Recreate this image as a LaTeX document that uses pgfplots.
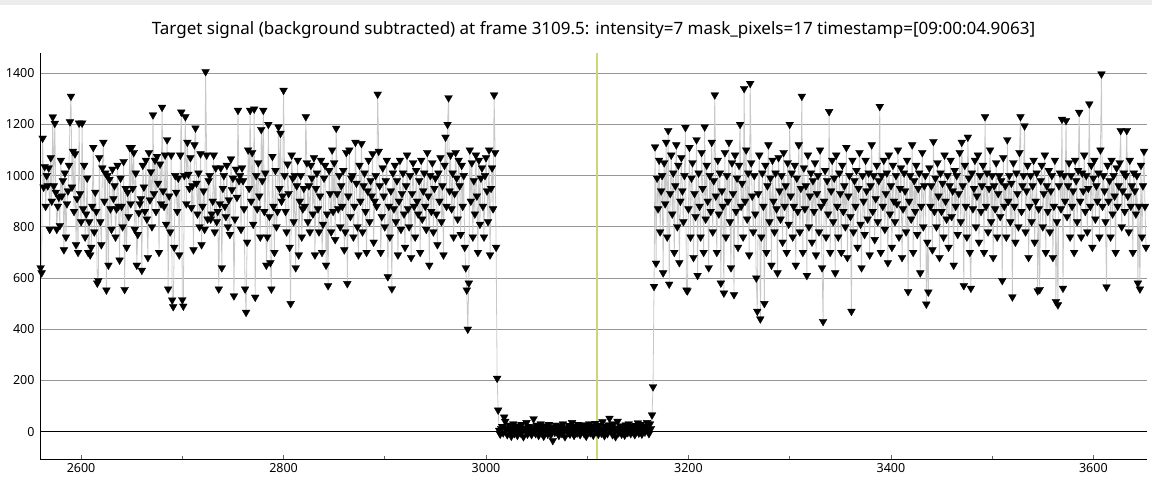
\documentclass[border=0pt]{standalone}
\usepackage{fontspec}
\setmainfont{Noto Sans}
\usepackage{pgfplots}
\pgfplotsset{compat=1.18}
\definecolor{markerline}{RGB}{200,200,200}
\definecolor{cursorline}{RGB}{205,215,120}
\definecolor{gridgray}{RGB}{150,150,150}

\begin{document}
\begin{tikzpicture}
\useasboundingbox (-40pt,-34pt) rectangle (1112pt,459pt);
\fill[black!7] (-40pt,454pt) rectangle (1112pt,459pt);
\begin{axis}[
    at={(0pt,0pt)}, anchor=south west,
    scale only axis,
    width=1107pt, height=406pt,
    xmin=2559.4, xmax=3653,
    ymin=-107, ymax=1479,
    axis lines=left,
    axis line style={-, black, line width=0.9pt},
    xtick={2600,2800,...,3600},
    minor xtick={2700,2900,...,3500},
    ytick={0,200,...,1400},
    tick align=inside,
    major tick length=4pt, minor tick length=3pt,
    x tick style={black!60, line width=0.6pt},
    y tick style={draw=none},
    ymajorgrids=true,
    major grid style={gridgray, line width=0.8pt},
    tick label style={font=\fontsize{12.5}{14}\selectfont},
    /pgf/number format/assume math mode=true,
    /pgf/number format/1000 sep={},
    yticklabel style={xshift=-2pt},
    xticklabel style={yshift=-1pt},
    title={Target signal (background subtracted) at frame 3109.5: intensity=7 mask\_pixels=17 timestamp=[09:00:04.9063]},
    title style={font=\fontsize{17}{19}\selectfont, at={(0.5,1)}, anchor=center, yshift=17pt},
    clip=true,
]
% zero line
\addplot[black, line width=1.2pt, forget plot] coordinates {(2559.4,0) (3653,0)};
% signal
\addplot[
    color=markerline, line width=0.8pt,
    mark=triangle*, mark size=4.5pt,
    mark options={rotate=180, fill=black, draw=black, line width=0.3pt},
    ]
    coordinates {
(2560,640)(2561,620)(2562,1146)(2563,955)(2564,1035)(2565,880)(2566,1000)(2567,960)(2568,1030)(2569,790)
(2570,1070)(2571,900)(2572,1229)(2573,960)(2574,1204)(2575,935)(2576,790)(2577,880)(2578,915)(2579,805)
(2580,1060)(2581,920)(2582,980)(2583,710)(2584,1010)(2585,760)(2586,890)(2587,940)(2588,1040)(2589,1210)
(2590,1310)(2591,955)(2592,1095)(2593,860)(2594,1085)(2595,730)(2596,910)(2597,700)(2598,1205)(2599,930)
(2600,820)(2601,1205)(2602,870)(2603,1040)(2604,760)(2605,850)(2606,990)(2607,700)(2608,820)(2609,690)
(2610,720)(2611,880)(2612,1110)(2613,780)(2614,935)(2615,860)(2616,580)(2617,590)(2618,1070)(2619,820)
(2620,730)(2621,1030)(2622,1130)(2623,900)(2624,1010)(2625,553)(2626,1000)(2627,650)(2628,985)(2629,870)
(2630,790)(2631,1025)(2632,910)(2633,960)(2634,760)(2635,870)(2636,1040)(2637,880)(2638,670)(2639,990)
(2640,880)(2641,800)(2642,1055)(2643,555)(2644,950)(2645,720)(2646,935)(2647,840)(2648,1110)(2649,890)
(2650,1110)(2651,950)(2652,1090)(2653,790)(2654,1010)(2655,650)(2656,770)(2657,855)(2658,890)(2659,910)
(2660,630)(2661,1040)(2662,955)(2663,860)(2664,1060)(2665,830)(2666,680)(2667,1090)(2668,905)(2669,1015)
(2670,800)(2671,1237)(2672,930)(2673,1060)(2674,860)(2675,1075)(2676,970)(2677,700)(2678,1045)(2679,890)
(2680,1267)(2681,940)(2682,880)(2683,1080)(2684,810)(2685,1140)(2686,557)(2687,920)(2688,780)(2689,1080)
(2690,514)(2691,488)(2692,720)(2693,1000)(2694,935)(2695,860)(2696,990)(2697,690)(2698,1080)(2699,1248)
(2700,515)(2701,490)(2702,1000)(2703,1230)(2704,890)(2705,1130)(2706,1005)(2707,950)(2708,1070)(2709,875)
(2710,960)(2711,710)(2712,1120)(2713,1186)(2714,970)(2715,850)(2716,1010)(2717,800)(2718,1085)(2719,730)
(2720,880)(2721,940)(2722,790)(2723,1406)(2724,1080)(2725,830)(2726,980)(2727,1000)(2728,830)(2729,850)
(2730,900)(2731,1080)(2732,780)(2733,1030)(2734,820)(2735,860)(2736,557)(2737,890)(2738,1030)(2739,640)
(2740,950)(2741,1000)(2742,880)(2743,840)(2744,1040)(2745,800)(2746,905)(2747,770)(2748,1065)(2749,945)
(2750,990)(2751,530)(2752,830)(2753,1025)(2754,915)(2755,1255)(2756,980)(2757,1000)(2758,790)(2759,1030)
(2760,980)(2761,870)(2762,557)(2763,466)(2764,740)(2765,1100)(2766,950)(2767,1255)(2768,900)(2769,1090)
(2770,810)(2771,1260)(2772,525)(2773,1000)(2774,870)(2775,1050)(2776,920)(2777,760)(2778,1180)(2779,980)
(2780,1255)(2781,860)(2782,1010)(2783,650)(2784,760)(2785,1200)(2786,840)(2787,660)(2788,557)(2789,1075)
(2790,880)(2791,700)(2792,1020)(2793,800)(2794,860)(2795,1190)(2796,950)(2797,1165)(2798,900)(2799,920)
(2800,1333)(2801,1000)(2802,860)(2803,780)(2804,1045)(2805,930)(2806,720)(2807,500)(2808,1080)(2809,990)
(2810,820)(2811,1000)(2812,640)(2813,960)(2814,1060)(2815,690)(2816,900)(2817,1000)(2818,760)(2819,870)
(2820,950)(2821,880)(2822,1230)(2823,1050)(2824,820)(2825,960)(2826,780)(2827,1040)(2828,990)(2829,850)
(2830,1070)(2831,690)(2832,950)(2833,1010)(2834,870)(2835,780)(2836,920)(2837,1060)(2838,700)(2839,810)
(2840,990)(2841,1040)(2842,650)(2843,850)(2844,570)(2845,1020)(2846,930)(2847,780)(2848,1100)(2849,860)
(2850,1050)(2851,750)(2852,1185)(2853,930)(2854,870)(2855,1000)(2856,800)(2857,960)(2858,880)(2859,1020)
(2860,710)(2861,780)(2862,1090)(2863,578)(2864,920)(2865,1100)(2866,840)(2867,990)(2868,1000)(2869,760)
(2870,880)(2871,1130)(2872,970)(2873,800)(2874,690)(2875,1040)(2876,900)(2877,1125)(2878,780)(2879,960)
(2880,1010)(2881,860)(2882,700)(2883,940)(2884,1060)(2885,820)(2886,980)(2887,920)(2888,1085)(2889,740)
(2890,900)(2891,1000)(2892,880)(2893,1318)(2894,1095)(2895,960)(2896,700)(2897,840)(2898,1030)(2899,920)
(2900,800)(2901,980)(2902,1060)(2903,605)(2904,880)(2905,760)(2906,940)(2907,558)(2908,1010)(2909,870)
(2910,1040)(2911,820)(2912,980)(2913,690)(2914,900)(2915,1060)(2916,790)(2917,930)(2918,1010)(2919,850)
(2920,720)(2921,960)(2922,1080)(2923,870)(2924,800)(2925,1000)(2926,680)(2927,930)(2928,1050)(2929,880)
(2930,760)(2931,1020)(2932,900)(2933,850)(2934,980)(2935,700)(2936,1060)(2937,830)(2938,940)(2939,1010)
(2940,880)(2941,790)(2942,1090)(2943,920)(2944,650)(2945,1000)(2946,860)(2947,1050)(2948,780)(2949,950)
(2950,990)(2951,850)(2952,730)(2953,1010)(2954,900)(2955,1070)(2956,820)(2957,960)(2958,690)(2959,1040)
(2960,1150)(2961,880)(2962,1200)(2963,1304)(2964,940)(2965,1080)(2966,870)(2967,1010)(2968,760)(2969,930)
(2970,1090)(2971,990)(2972,830)(2973,1060)(2974,960)(2975,770)(2976,1040)(2977,880)(2978,1000)(2979,720)
(2980,640)(2981,553)(2982,400)(2983,580)(2984,1100)(2985,900)(2986,1050)(2987,760)(2988,980)(2989,850)
(2990,1080)(2991,920)(2992,700)(2993,1060)(2994,810)(2995,990)(2996,1030)(2997,880)(2998,760)(2999,1000)
(3000,1070)(3001,940)(3002,820)(3003,1100)(3004,690)(3005,950)(3006,1030)(3007,870)(3008,1315)(3009,1090)
(3010,720)(3011,208)(3012,84)
(3013,5)(3014,-10)(3015,12)(3016,20)(3017,-5)(3018,57)(3019,40)(3020,8)(3021,-12)(3022,15)
(3023,25)(3024,0)(3025,-18)(3026,10)(3027,30)(3028,-8)(3029,18)(3030,5)(3031,-15)(3032,22)
(3033,12)(3034,-5)(3035,28)(3036,3)(3037,-20)(3038,15)(3039,8)(3040,35)(3041,-10)(3042,20)
(3043,0)(3044,18)(3045,-12)(3046,10)(3047,50)(3048,5)(3049,-8)(3050,25)(3051,14)(3052,-15)
(3053,8)(3054,30)(3055,-5)(3056,12)(3057,-18)(3058,22)(3059,3)(3060,15)(3061,-10)(3062,28)
(3063,6)(3064,-12)(3065,18)(3066,-35)(3067,10)(3068,-3)(3069,25)(3070,0)(3071,14)(3072,-15)
(3073,20)(3074,8)(3075,-8)(3076,30)(3077,2)(3078,-20)(3079,16)(3080,10)(3081,-5)(3082,24)
(3083,-10)(3084,12)(3085,35)(3086,4)(3087,-15)(3088,20)(3089,7)(3090,-6)(3091,28)(3092,10)
(3093,-12)(3094,18)(3095,2)(3096,26)(3097,-8)(3098,14)(3099,-18)(3100,22)(3101,5)(3102,30)
(3103,-5)(3104,10)(3105,20)(3106,-14)(3107,8)(3108,32)(3109,0)(3110,15)(3111,-10)(3112,24)
(3113,10)(3114,-6)(3115,38)(3116,4)(3117,-16)(3118,20)(3119,12)(3120,-8)(3121,26)(3122,52)
(3123,6)(3124,18)(3125,-12)(3126,30)(3127,2)(3128,-20)(3129,14)(3130,40)(3131,-5)(3132,10)
(3133,22)(3134,-10)(3135,16)(3136,4)(3137,-14)(3138,26)(3139,8)(3140,-4)(3141,30)(3142,12)
(3143,-8)(3144,20)(3145,0)(3146,18)(3147,-12)(3148,24)(3149,6)(3150,34)(3151,-6)(3152,14)
(3153,28)(3154,-10)(3155,10)(3156,20)(3157,-2)(3158,16)(3159,35)(3160,4)(3161,-8)(3162,30)
(3163,12)
(3164,65)(3165,175)(3166,567)(3167,1112)(3168,658)(3169,990)(3170,870)(3171,1060)(3172,780)(3173,940)
(3174,1000)(3175,620)(3176,1050)(3177,890)(3178,1130)(3179,760)(3180,1176)(3181,576)(3182,930)(3183,1080)
(3184,850)(3185,1010)(3186,700)(3187,960)(3188,1120)(3189,800)(3190,1040)(3191,660)(3192,900)(3193,1070)
(3194,940)(3195,820)(3196,1000)(3197,1188)(3198,553)(3199,550)(3200,870)(3201,1110)(3202,760)(3203,990)
(3204,1050)(3205,680)(3206,930)(3207,840)(3208,1140)(3209,610)(3210,1010)(3211,880)(3212,760)(3213,1090)
(3214,950)(3215,700)(3216,1190)(3217,830)(3218,1040)(3219,900)(3220,640)(3221,1000)(3222,860)(3223,1130)
(3224,780)(3225,980)(3226,1315)(3227,920)(3228,700)(3229,1060)(3230,850)(3231,1010)(3232,580)(3233,940)
(3234,880)(3235,541)(3236,1090)(3237,760)(3238,1000)(3239,900)(3240,1130)(3241,820)(3242,640)(3243,1050)
(3244,930)(3245,535)(3246,1080)(3247,860)(3248,990)(3249,720)(3250,1040)(3251,1200)(3252,880)(3253,970)
(3254,760)(3255,1340)(3256,900)(3257,1100)(3258,830)(3259,1010)(3260,690)(3261,1360)(3262,1050)(3263,920)
(3264,780)(3265,1000)(3266,850)(3267,600)(3268,470)(3269,930)(3270,1080)(3271,440)(3272,760)(3273,1010)
(3274,880)(3275,500)(3276,1040)(3277,700)(3278,960)(3279,1120)(3280,820)(3281,990)(3282,650)(3283,1060)
(3284,900)(3285,780)(3286,1010)(3287,870)(3288,620)(3289,1070)(3290,940)(3291,830)(3292,1000)(3293,740)
(3294,1090)(3295,880)(3296,960)(3297,700)(3298,1050)(3299,810)(3300,1200)(3301,920)(3302,1010)(3303,760)
(3304,880)(3305,1040)(3306,650)(3307,990)(3308,860)(3309,1120)(3310,780)(3311,950)(3312,1310)(3313,700)
(3314,1030)(3315,870)(3316,960)(3317,610)(3318,1080)(3319,800)(3320,920)(3321,1010)(3322,740)(3323,980)
(3324,860)(3325,1050)(3326,690)(3327,930)(3328,1000)(3329,780)(3330,1100)(3331,880)(3332,640)(3333,430)
(3334,900)(3335,1020)(3336,760)(3337,980)(3338,850)(3339,1250)(3340,700)(3341,940)(3342,1060)(3343,820)
(3344,990)(3345,620)(3346,1080)(3347,880)(3348,760)(3349,1010)(3350,930)(3351,700)(3352,1040)(3353,860)
(3354,960)(3355,800)(3356,1110)(3357,680)(3358,920)(3359,1000)(3360,840)(3361,470)(3362,1060)(3363,780)
(3364,980)(3365,880)(3366,1020)(3367,720)(3368,950)(3369,1090)(3370,810)(3371,640)(3372,1000)(3373,900)
(3374,770)(3375,1060)(3376,940)(3377,830)(3378,1010)(3379,690)(3380,960)(3381,1120)(3382,860)(3383,1000)
(3384,750)(3385,910)(3386,1040)(3387,820)(3388,980)(3389,1270)(3390,700)(3391,1000)(3392,880)(3393,1060)
(3394,790)(3395,930)(3396,1010)(3397,660)(3398,1080)(3399,850)(3400,960)(3401,720)(3402,1040)(3403,900)
(3404,820)(3405,1000)(3406,890)(3407,1100)(3408,760)(3409,950)(3410,1030)(3411,680)(3412,870)(3413,1010)
(3414,940)(3415,780)(3416,1060)(3417,547)(3418,900)(3419,1000)(3420,830)(3421,1120)(3422,700)(3423,980)
(3424,860)(3425,1040)(3426,770)(3427,950)(3428,1010)(3429,620)(3430,880)(3431,1090)(3432,800)(3433,960)
(3434,1000)(3435,498)(3436,740)(3437,545)(3438,1030)(3439,880)(3440,960)(3441,710)(3442,1133)(3443,860)
(3444,990)(3445,800)(3446,1050)(3447,920)(3448,680)(3449,1010)(3450,860)(3451,970)(3452,760)(3453,1080)
(3454,900)(3455,830)(3456,1000)(3457,720)(3458,960)(3459,1060)(3460,840)(3461,940)(3462,650)(3463,1020)
(3464,880)(3465,1000)(3466,770)(3467,930)(3468,1090)(3469,820)(3470,1130)(3471,960)(3472,570)(3473,1040)
(3474,880)(3475,760)(3476,1150)(3477,990)(3478,700)(3479,560)(3480,1010)(3481,870)(3482,950)(3483,1060)
(3484,800)(3485,920)(3486,1080)(3487,740)(3488,1000)(3489,860)(3490,960)(3491,1040)(3492,700)(3493,1230)
(3494,880)(3495,1010)(3496,780)(3497,950)(3498,1100)(3499,820)(3500,1000)(3501,680)(3502,960)(3503,870)
(3504,1050)(3505,760)(3506,930)(3507,1000)(3508,840)(3509,980)(3510,590)(3511,1070)(3512,880)(3513,960)
(3514,760)(3515,1140)(3516,900)(3517,1000)(3518,820)(3519,970)(3520,526)(3521,1050)(3522,880)(3523,740)
(3524,1010)(3525,930)(3526,800)(3527,1090)(3528,1230)(3529,860)(3530,960)(3531,1000)(3532,1194)(3533,780)
(3534,940)(3535,1040)(3536,680)(3537,880)(3538,1000)(3539,820)(3540,960)(3541,1060)(3542,740)(3543,900)
(3544,1010)(3545,550)(3546,870)(3547,555)(3548,980)(3549,1040)(3550,800)(3551,930)(3552,1080)(3553,700)
(3554,960)(3555,860)(3556,1020)(3557,780)(3558,940)(3559,1000)(3560,680)(3561,880)(3562,1060)(3563,508)
(3564,820)(3565,495)(3566,960)(3567,1010)(3568,870)(3569,1220)(3570,560)(3571,1000)(3572,900)(3573,1215)
(3574,840)(3575,960)(3576,1050)(3577,760)(3578,1000)(3579,880)(3580,940)(3581,700)(3582,1060)(3583,980)
(3584,820)(3585,1020)(3586,1247)(3587,900)(3588,760)(3589,1010)(3590,940)(3591,1080)(3592,860)(3593,1000)
(3594,780)(3595,950)(3596,1280)(3597,880)(3598,1040)(3599,720)(3600,990)(3601,1060)(3602,830)(3603,960)
(3604,900)(3605,1010)(3606,760)(3607,1100)(3608,1397)(3609,880)(3610,1000)(3611,940)(3612,820)(3613,565)
(3614,1040)(3615,900)(3616,980)(3617,760)(3618,1060)(3619,850)(3620,1000)(3621,920)(3622,700)(3623,1030)
(3624,880)(3625,960)(3626,1050)(3627,1176)(3628,800)(3629,940)(3630,1010)(3631,860)(3632,1000)(3633,1176)
(3634,920)(3635,780)(3636,1060)(3637,880)(3638,960)(3639,700)(3640,1010)(3641,940)(3642,850)(3643,1000)
(3644,580)(3645,880)(3646,557)(3647,1040)(3648,760)(3649,960)(3650,1095)(3651,880)(3652,720)
    };
% current frame cursor
\addplot[cursorline, line width=1.6pt, forget plot] coordinates {(3109.5,-107) (3109.5,1479)};
\end{axis}
\end{tikzpicture}
\end{document}
